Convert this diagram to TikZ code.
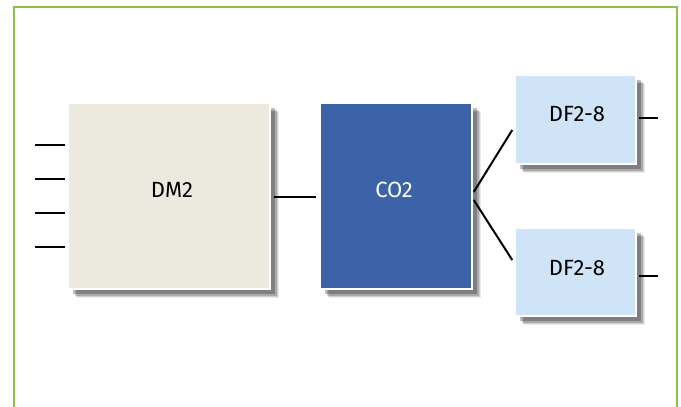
\documentclass[tikz,border=0pt]{standalone}
\usepackage{fontspec}
\setmainfont{Fira Sans}
\usetikzlibrary{shadows,calc}
\definecolor{frameg}{RGB}{139,195,74}
\definecolor{dmfill}{RGB}{236,234,223}
\definecolor{cofill}{RGB}{60,98,168}
\definecolor{dffill}{RGB}{208,228,247}
\tikzset{
  blk/.style={draw=white, line width=1.5pt, inner sep=0pt,
    general shadow={shadow xshift=9pt, shadow yshift=-9pt, fill=black, opacity=0.08},
    general shadow={shadow xshift=8pt, shadow yshift=-8pt, fill=black, opacity=0.12},
    general shadow={shadow xshift=7pt, shadow yshift=-7pt, fill=black, opacity=0.18},
    general shadow={shadow xshift=5pt, shadow yshift=-5pt, fill=black, opacity=0.25}},
  wire/.style={line width=2pt, black},
  lbl/.style={inner sep=0pt, font=\fontsize{22}{24}\selectfont}
}
\begin{document}
\begin{tikzpicture}[x=1pt,y=-1pt]
\useasboundingbox (0,0) rectangle (681,407);
\draw[frameg, line width=2.6pt] (14,420) -- (14,7) -- (677,7) -- (677,420);
\node[blk, fill=dmfill, minimum width=202pt, minimum height=186pt] (dm) at (169,196) {};
\node[lbl] at (172,190) {DM2};
\node[blk, fill=cofill, minimum width=152pt, minimum height=186pt] (co) at (396,196) {};
\node[lbl, text=white] at (394,190) {CO2};
\node[blk, fill=dffill, minimum width=121pt, minimum height=89pt] (dfa) at (575.5,119.5) {};
\node[lbl] at (577,114) {DF2-8};
\node[blk, fill=dffill, minimum width=121pt, minimum height=88pt] (dfb) at (575.5,272) {};
\node[lbl] at (577,268) {DF2-8};
% left stubs
\foreach \yy [count=\i] in {145,179,213,247} {
  \coordinate (in\i) at (35,\yy);
  \draw[wire] (in\i) -- ($(in\i -| dm.west)+(-2,0)$);
}
\draw[wire] ($(dm.east)+(3,1)$) -- ($(co.west)+(-3,1)$);
\coordinate (coa) at ($(co.east)+(1,-4)$);
\coordinate (cob) at ($(co.east)+(1,4)$);
\draw[wire] (coa) -- ($(dfa.west)+(-2,10.5)$);
\draw[wire] (cob) -- ($(dfb.west)+(-2,-12)$);
\coordinate (outa) at (658,118);
\coordinate (outb) at (658,276);
\draw[wire] ($(dfa.east)+(2,-1.5)$) -- (outa);
\draw[wire] ($(dfb.east)+(2,4)$) -- (outb);
\end{tikzpicture}
\end{document}
